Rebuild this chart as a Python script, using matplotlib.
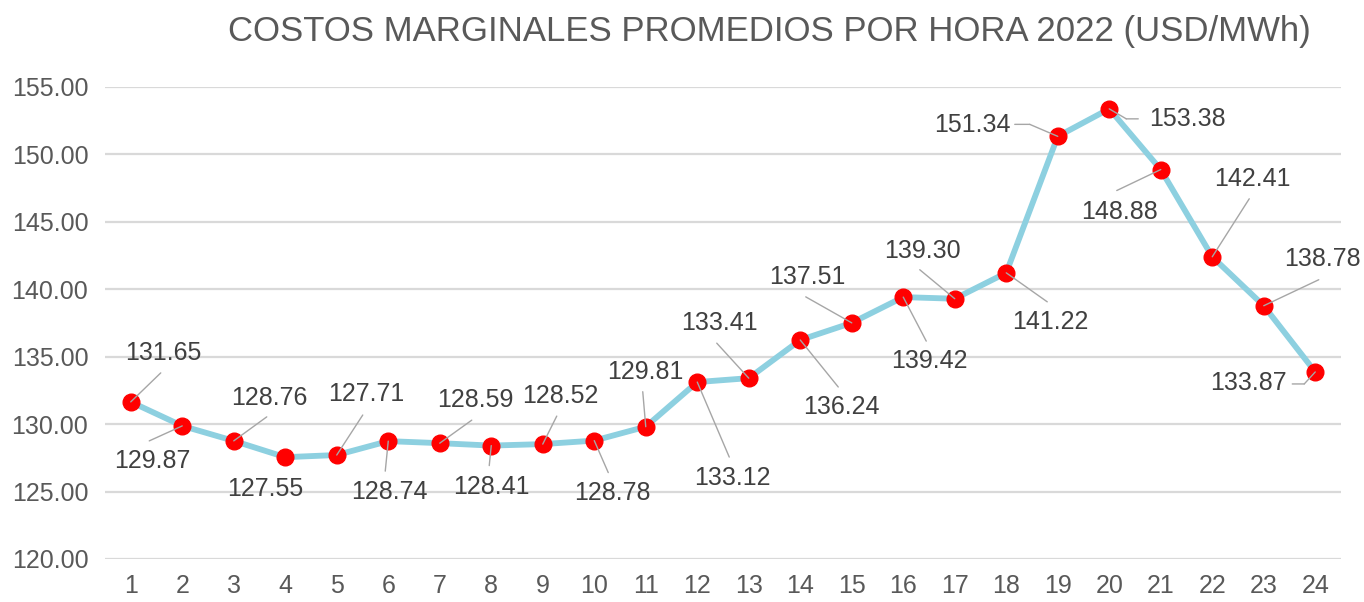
import matplotlib
matplotlib.use("Agg")
import matplotlib.pyplot as plt
from matplotlib.transforms import offset_copy

# Hourly average marginal costs, 2022 (USD/MWh)
hours = list(range(1, 25))
costs = [131.65, 129.87, 128.76, 127.55, 127.71, 128.74, 128.59, 128.41,
         128.52, 128.78, 129.81, 133.12, 133.41, 136.24, 137.51, 139.42,
         139.30, 141.22, 151.34, 153.38, 148.88, 142.41, 138.78, 133.87]
y_ticks = [120, 125, 130, 135, 140, 145, 150, 155]
title = "COSTOS MARGINALES PROMEDIOS POR HORA 2022 (USD/MWh)"

# Label placement (pixel offsets from each point): text centre, leader start, optional elbow
label_offsets = [(33, 49), (-30, -35), (36, 43), (-20, -32), (29, 61), (1, -51),
                 (36, 43), (0, -41), (18, 48), (18, -52), (0, 55), (35, -96),
                 (-29, 55), (41, -67), (-44, 46), (26, -64), (-32, 48), (44, -49),
                 (-85, 11), (78, -10), (-41, -42), (40, 78), (59, 47), (-67, -11)]
leader_starts = [(30, 29), (-33, -15), (33, 24), None, (26, 40), (-3, -30),
                 (32, 23), (-2, -20), (14, 28), (14, -32), (-3, 35), (32, -75),
                 (-32, 35), (38, -47), (-46, 26), (23, -44), (-35, 29), (41, -29),
                 (-43, 12), (29, -10), (-44, -21), (37, 58), (55, 26), (-23, -12)]
leader_elbows = {18: (-28, 12), 19: (17, -10), 23: (-11, -12)}

TEXT = "#595959"
LABEL = "#404040"
GRID = "#d9d9d9"
LINE = "#8dd0e0"
DOT = "#ff0000"
LEADER = "#a6a6a6"

plt.rcParams["font.family"] = ["Liberation Sans", "DejaVu Sans"]

fig = plt.figure(figsize=(13.64, 6.02), dpi=100)
ax = fig.add_axes([105 / 1364, 43 / 602, 1236 / 1364, 472 / 602])

ax.plot(hours, costs, color=LINE, lw=4.2, zorder=3, solid_capstyle="round")
ax.plot(hours, costs, ls="none", marker="o", ms=12, mfc=DOT, mec=DOT, zorder=4)

ax.set_xlim(0.5, 24.5)
ax.set_ylim(120, 155)
ax.set_yticks(y_ticks)
ax.set_yticklabels([f"{t:.2f}" for t in y_ticks])
ax.set_xticks(hours)
ax.set_xticklabels([str(h) for h in hours])
ax.grid(axis="y", color=GRID, lw=1.6, zorder=0)
ax.set_axisbelow(True)
for s in ax.spines.values():
    s.set_visible(False)
ax.tick_params(axis="both", length=0, labelsize=18, colors=TEXT)
ax.tick_params(axis="x", pad=11)
ax.tick_params(axis="y", pad=12)

for i, (h, v) in enumerate(zip(hours, costs)):
    ax.annotate(f"{v:.2f}", xy=(h, v), xytext=label_offsets[i],
                textcoords="offset pixels", ha="center", va="center",
                fontsize=18, color=LABEL, zorder=6)
    start = leader_starts[i]
    if start is None:
        continue
    lp = dict(arrowstyle="-", color=LEADER, lw=1.0, shrinkA=0, shrinkB=0)
    elbow = leader_elbows.get(i)
    if elbow is None:
        ax.annotate("", xy=(h, v), xytext=start, textcoords="offset pixels",
                    arrowprops=lp, zorder=5)
    else:
        ax.annotate("", xy=(h, v), xytext=elbow, textcoords="offset pixels",
                    arrowprops=lp, zorder=5)
        tr = offset_copy(ax.transData, fig=fig, x=elbow[0], y=elbow[1], units="dots")
        ax.annotate("", xy=(h, v), xycoords=tr,
                    xytext=(start[0] - elbow[0], start[1] - elbow[1]),
                    textcoords="offset pixels", arrowprops=lp, zorder=5)

fig.text(769 / 1364, 1 - 32 / 602, title, ha="center", va="center",
         fontsize=25, color=TEXT)

fig.savefig("out.png", dpi=100, facecolor="white")
